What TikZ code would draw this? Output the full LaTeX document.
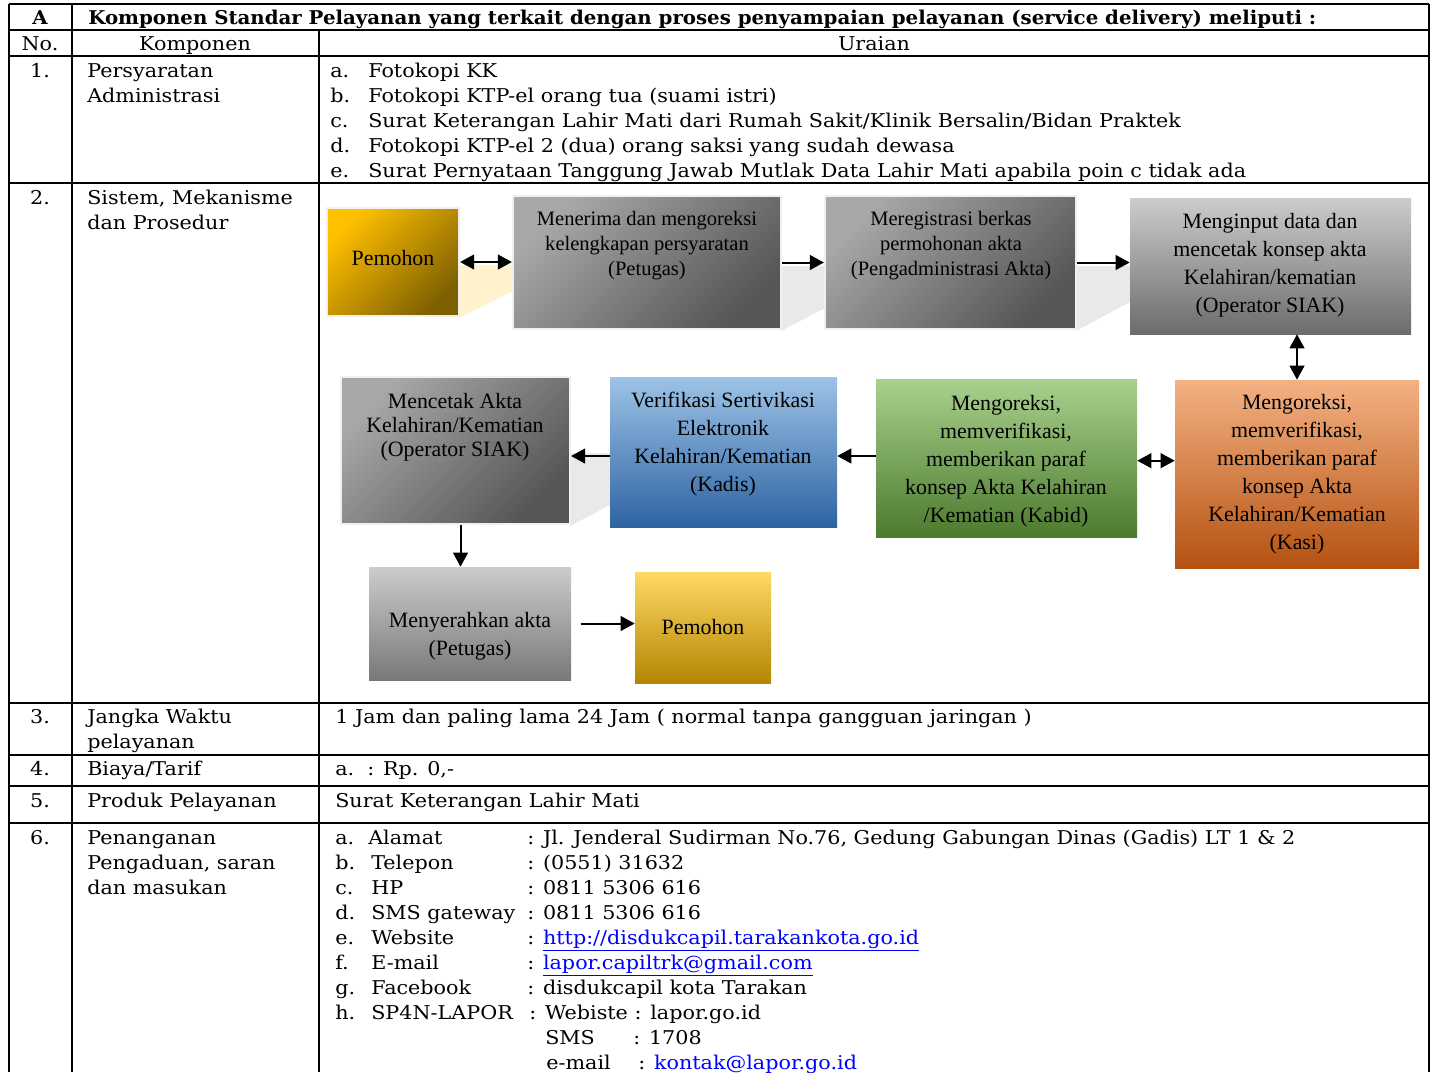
\documentclass[tikz,border=0pt]{standalone}
\usepackage{fontspec}
\setmainfont{DejaVu Serif}[FakeStretch=1.09]
\newfontfamily\titlefamily{DejaVu Serif}[FakeStretch=1.04]
\newfontfamily\flowfamily{Liberation Serif}
\usetikzlibrary{arrows.meta,fit,positioning}

\newcommand{\tblfont}{\fontsize{14.25}{18.75}\selectfont}
\newcommand{\flowtop}{\flowfamily\fontsize{15.4}{18.75}\selectfont}
\newcommand{\flowlow}{\flowfamily\fontsize{16.4}{21}\selectfont}

\definecolor{goldA}{RGB}{255,192,0}
\definecolor{goldB}{RGB}{127,96,0}
\definecolor{goldC}{RGB}{255,217,102}
\definecolor{goldD}{RGB}{178,134,0}
\definecolor{greyA}{RGB}{168,168,168}
\definecolor{greyB}{RGB}{86,86,86}
\definecolor{greyC}{RGB}{204,204,204}
\definecolor{greyD}{RGB}{108,108,108}
\definecolor{greyE}{RGB}{120,120,120}
\definecolor{orgA}{RGB}{244,177,131}
\definecolor{orgB}{RGB}{237,125,49}
\definecolor{orgC}{RGB}{180,82,17}
\definecolor{grnA}{RGB}{169,209,142}
\definecolor{grnB}{RGB}{112,173,71}
\definecolor{grnC}{RGB}{76,122,46}
\definecolor{bluA}{RGB}{157,195,230}
\definecolor{bluB}{RGB}{91,155,213}
\definecolor{bluC}{RGB}{46,99,163}
\definecolor{shadeY}{RGB}{255,242,204}
\definecolor{shadeG}{RGB}{233,233,233}
\definecolor{linkblue}{RGB}{0,0,255}

\begin{document}
\begin{tikzpicture}[x=0.75pt,y=0.75pt,yscale=-1,xscale=1,
  tbl/.style={line width=1.6pt},
  cell/.style={anchor=base west,inner sep=0pt,font=\tblfont},
  mid/.style={anchor=base,inner sep=0pt,font=\tblfont},
  box/.style={inner sep=0pt,draw=white!94!black,line width=1.6pt},
  flatbox/.style={inner sep=0pt},
  diag/.style={shading=axis,top color=#1A,bottom color=#1B,shading angle=45},
  vert/.style={top color=#1A,middle color=#1B,bottom color=#1C},
  toptext/.style={inner sep=0pt,align=center,font=\flowtop},
  lowtext/.style={inner sep=0pt,align=center,font=\flowlow},
  arr/.style={line width=1.5pt,-{Triangle[length=10.5pt,width=11pt]}},
  darr/.style={line width=1.5pt,{Triangle[length=10.5pt,width=11pt]}-{Triangle[length=10.5pt,width=11pt]}}]
\useasboundingbox (0,0) rectangle (1432,1072);

%Straight Lines
\draw [tbl] (9,4) -- (1429,4) ;
\draw [tbl] (9,4) -- (9,1072) ;
\draw [tbl] (1429,4) -- (1429,1072) ;
\draw [tbl] (72,4) -- (72,1072) ;
\draw [tbl] (319,30) -- (319,1072) ;
\draw [tbl] (9,30) -- (1429,30) ;
\draw [tbl] (9,56) -- (1429,56) ;
\draw [tbl] (9,183) -- (1429,183) ;
\draw [tbl] (9,703) -- (1429,703) ;
\draw [tbl] (9,755) -- (1429,755) ;
\draw [tbl] (9,786) -- (1429,786) ;
\draw [tbl] (9,823) -- (1429,823) ;

% Text Node
\node (hdrA) [mid,font=\tblfont\titlefamily\bfseries] at (40,24) {A};
\node (hdrTitle) [cell,font=\tblfont\titlefamily\bfseries] at (88,24) {Komponen Standar Pelayanan yang terkait dengan proses penyampaian pelayanan (service delivery) meliputi :};
\node (hdrNo) [mid] at (40,50) {No.};
\node (hdrKomp) [mid] at (195,50) {Komponen};
\node (hdrUraian) [mid] at (874,50) {Uraian};

% Text Node
\node (no1) [mid] at (40,77) {1.};
\node (komp1a) [cell] at (87,77) {Persyaratan};
\node (komp1b) [cell] at (87,102) {Administrasi};
\node (ur1a) [cell] at (330,77) {a.};
\node (ur1b) [cell] at (330,102) {b.};
\node (ur1c) [cell] at (330,127) {c.};
\node (ur1d) [cell] at (330,152) {d.};
\node (ur1e) [cell] at (330,177) {e.};
\node (syarat1) [cell] at (368,77) {Fotokopi KK};
\node (syarat2) [cell] at (368,102) {Fotokopi KTP-el orang tua (suami istri)};
\node (syarat3) [cell] at (368,127) {Surat Keterangan Lahir Mati dari Rumah Sakit/Klinik Bersalin/Bidan Praktek};
\node (syarat4) [cell] at (368,152) {Fotokopi KTP-el 2 (dua) orang saksi yang sudah dewasa};
\node (syarat5) [cell] at (368,177) {Surat Pernyataan Tanggung Jawab Mutlak Data Lahir Mati apabila poin c tidak ada};

% Text Node
\node (no2) [mid] at (40,204) {2.};
\node (komp2a) [cell] at (87,204) {Sistem, Mekanisme};
\node (komp2b) [cell] at (87,229) {dan Prosedur};

%Shape: Polygon (side faces)
\fill [shadeY] (459,265) -- (513,265) -- (513,291) -- (459,318) -- cycle ;
\fill [shadeG] (781,266) -- (825,266) -- (825,308) -- (781,331) -- cycle ;
\fill [shadeG] (1076,266) -- (1130,266) -- (1130,302) -- (1076,331) -- cycle ;
\fill [shadeG] (570,453) -- (610,453) -- (610,505) -- (570,526) -- cycle ;

%Shape: Rectangle
\node (pem1) [box,diag=gold,fit={(327,208) (459,316)}] {};
\node (terima) [box,diag=grey,fit={(513,196) (781,329)}] {};
\node (regis) [box,diag=grey,fit={(825,196) (1076,329)}] {};
\node (input) [flatbox,top color=greyC,bottom color=greyD,fit={(1130,198) (1411,334)}] {};
\node (kasi) [flatbox,vert=org,fit={(1175,380) (1419,568)}] {};
\node (kabid) [flatbox,vert=grn,fit={(876,379) (1137,537)}] {};
\node (verif) [flatbox,vert=blu,fit={(610,377) (837,527)}] {};
\node (cetak) [box,diag=grey,fit={(341,377) (570,524)}] {};
\node (serah) [flatbox,top color=greyC,bottom color=greyE,fit={(369,567) (571,680)}] {};
\node (pem2) [flatbox,top color=goldC,middle color=goldA,bottom color=goldD,fit={(635,572) (771,683)}] {};

% Text Node
\node (pem1t) [toptext,font=\flowlow] at (393,258) {Pemohon};
\node (terimat) [toptext] at (647,246) {Menerima dan mengoreksi\\kelengkapan persyaratan\\(Petugas)};
\node (regist) [toptext] at (951,246) {Meregistrasi berkas\\permohonan akta\\(Pengadministrasi Akta)};
\node (inputt) [lowtext] at (1270,265) {Menginput data dan\\mencetak konsep akta\\Kelahiran/kematian\\(Operator SIAK)};
\node (kasit) [lowtext] at (1297,474) {Mengoreksi,\\memverifikasi,\\memberikan paraf\\konsep Akta\\Kelahiran/Kematian\\(Kasi)};
\node (kabidt) [lowtext] at (1006,461) {Mengoreksi,\\memverifikasi,\\memberikan paraf\\konsep Akta Kelahiran\\/Kematian (Kabid)};
\node (verift) [lowtext] at (723,444) {Verifikasi Sertivikasi\\Elektronik\\Kelahiran/Kematian\\(Kadis)};
\node (cetakt) [lowtext,font=\flowfamily\fontsize{16.4}{18}\selectfont] at (455,427) {Mencetak Akta\\Kelahiran/Kematian\\(Operator SIAK)};
\node (seraht) [lowtext] at (470,636) {Menyerahkan akta\\(Petugas)};
\node (pem2t) [lowtext] at (703,627) {Pemohon};

%Straight Lines
\draw [darr] (pem1.east) -- (pem1.east -| terima.west) ;
\draw [arr] (terima.east) -- (regis.west) ;
\draw [arr] (regis.east) -- (regis.east -| input.west) ;
\draw [darr] (kasi.north) -- (kasi.north |- input.south) ;
\draw [darr] ([yshift=2pt]kabid.east) -- ([yshift=2pt]kabid.east -| kasi.west) ;
\draw [arr] ([yshift=3pt]kabid.west |- verif.east) -- ([yshift=3pt]verif.east) ;
\draw [arr] ([yshift=3pt]verif.west) -- ([yshift=3pt]verif.west -| cetak.east) ;
\draw [arr] ([xshift=3.75pt]cetak.south) -- ([xshift=3.75pt]cetak.south |- serah.north) ;
\draw [arr,shorten <=7pt] (serah.east) -- (serah.east -| pem2.west) ;

% Text Node
\node (no3) [mid] at (40,723) {3.};
\node (komp3a) [cell] at (87,723) {Jangka Waktu};
\node (komp3b) [cell] at (87,748) {pelayanan};
\node (ur3) [cell] at (335,723) {1 Jam dan paling lama 24 Jam ( normal tanpa gangguan jaringan )};
\node (no4) [mid] at (40,775) {4.};
\node (komp4) [cell] at (87,775) {Biaya/Tarif};
\node (ur4) [cell] at (335,775) {a.\ \ : Rp. 0,-};
\node (no5) [mid] at (40,807) {5.};
\node (komp5) [cell] at (87,807) {Produk Pelayanan};
\node (ur5) [cell] at (335,807) {Surat Keterangan Lahir Mati};

% Text Node
\node (no6) [mid] at (40,844) {6.};
\node (komp6a) [cell] at (87,844) {Penanganan};
\node (komp6b) [cell] at (87,869) {Pengaduan, saran};
\node (komp6c) [cell] at (87,894) {dan masukan};
\node (let6a) [cell] at (335,844) {a.};
\node (let6b) [cell] at (335,869) {b.};
\node (let6c) [cell] at (335,894) {c.};
\node (let6d) [cell] at (335,919) {d.};
\node (let6e) [cell] at (335,944) {e.};
\node (let6f) [cell] at (335,969) {f.};
\node (let6g) [cell] at (335,994) {g.};
\node (let6h) [cell] at (335,1019) {h.};
\node (lab6a) [cell] at (368,844) {Alamat};
\node (lab6b) [cell] at (371,869) {Telepon};
\node (lab6c) [cell] at (371,894) {HP};
\node (lab6d) [cell] at (371,919) {SMS gateway};
\node (lab6e) [cell] at (371,944) {Website};
\node (lab6f) [cell] at (371,969) {E-mail};
\node (lab6g) [cell] at (371,994) {Facebook};
\node (lab6h) [cell] at (371,1019) {SP4N-LAPOR};
\node (val6a) [cell] at (527,844) {: Jl. Jenderal Sudirman No.76, Gedung Gabungan Dinas (Gadis) LT 1 \& 2};
\node (val6b) [cell] at (527,869) {: (0551) 31632};
\node (val6c) [cell] at (527,894) {: 0811 5306 616};
\node (val6d) [cell] at (527,919) {: 0811 5306 616};
\node (val6e) [cell] at (527,944) {: \textcolor{linkblue}{\underline{http://disdukcapil.tarakankota.go.id}}};
\node (val6f) [cell] at (527,969) {: \textcolor{linkblue}{\underline{lapor.capiltrk@gmail.com}}};
\node (val6g) [cell] at (527,994) {: disdukcapil kota Tarakan};
\node (val6h) [cell] at (529,1019) {: Webiste : lapor.go.id};
\node (sms6) [cell] at (545,1044) {SMS};
\node (smsv6) [cell] at (633,1044) {: 1708};
\node (mail6) [cell] at (546,1069) {e-mail};
\node (mailv6) [cell] at (638,1069) {: \textcolor{linkblue}{\underline{kontak@lapor.go.id}}};

\end{tikzpicture}
\end{document}
